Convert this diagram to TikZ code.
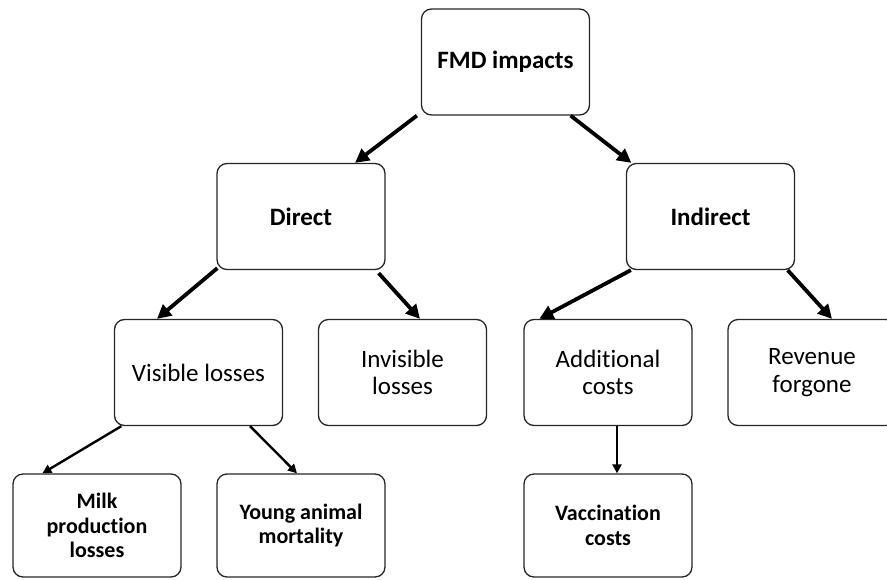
\documentclass[tikz,border=0pt]{standalone}
\usepackage{fontspec}
\setmainfont{Carlito}[RawFeature={-liga;-clig;-calt}]
\usepackage{tikz}
\usetikzlibrary{arrows.meta}

\begin{document}
\begin{tikzpicture}[x=1pt, y=-1pt,
		box/.style={draw=black!85, line width=1.3pt, rounded corners=10pt, minimum width=168pt, minimum height=106pt, inner sep=0pt, align=center, font=\fontsize{25}{27.5}\selectfont},
		lowbox/.style={box, minimum height=103pt, font=\fontsize{22}{24.5}\selectfont\bfseries},
		bigarrow/.style={line width=3.8pt, -{Triangle[length=14pt, width=14pt]}},
		smallarrow/.style={line width=2.4pt, -{Triangle[length=9pt, width=9pt]}}]
			\path[use as bounding box, clip] (0,0) rectangle (887,579);
			\node[box, font=\fontsize{25}{27.5}\selectfont\bfseries] (fmd) at (505.5,62) {FMD impacts};
			\node[box, font=\fontsize{25}{27.5}\selectfont\bfseries] (direct) at (301,216.5) {Direct};
			\node[box, font=\fontsize{25}{27.5}\selectfont\bfseries] (indirect) at (710.5,216.5) {Indirect};
			\node[box] (visible) at (198.5,372.5) {Visible losses};
			\node[box] (invisible) at (402.5,372.5) {Invisible\\losses};
			\node[box] (additional) at (608,372.5) {Additional\\costs};
			\node[box] (revenue) at (812,372.5) {Revenue\\forgone};
			\node[lowbox] (milk) at (97,525.5) {Milk\\production\\losses};
			\node[lowbox] (young) at (301,525.5) {Young animal\\mortality};
			\node[lowbox] (vaccination) at (608,525.5) {Vaccination\\costs};
			\draw[bigarrow] ([xshift=-4pt]fmd.south west) -- ([xshift=54pt]direct.north);
			\draw[bigarrow] ([xshift=-19.5pt]fmd.south east) -- ([xshift=5.5pt]indirect.north west);
			\draw[bigarrow] ([xshift=1pt, yshift=2pt]direct.south west) -- ([xshift=-41.5pt]visible.north);
			\draw[bigarrow] ([xshift=-7pt, yshift=-3pt]direct.south east) -- ([xshift=17.5pt]invisible.north);
			\draw[bigarrow] ([xshift=5pt]indirect.south west) -- ([xshift=16pt]additional.north west);
			\draw[bigarrow] ([xshift=-7.5pt]indirect.south east) -- ([xshift=20pt]revenue.north);
			\draw[smallarrow] ([xshift=7.5pt]visible.south west) -- ([xshift=30pt]milk.north west);
			\draw[smallarrow] ([xshift=51.5pt]visible.south) -- ([xshift=-4pt]young.north);
			\draw[smallarrow] ([xshift=9pt]additional.south) -- ([xshift=9pt]vaccination.north);
		\end{tikzpicture}
\end{document}
